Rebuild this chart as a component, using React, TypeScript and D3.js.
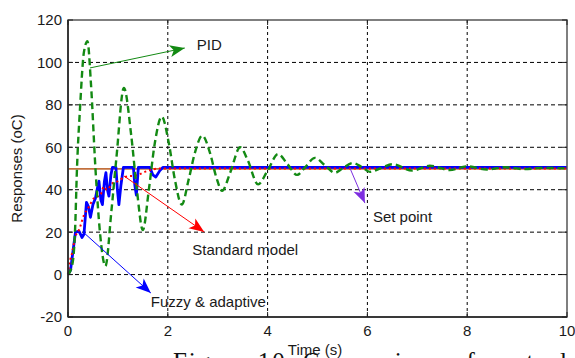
import React from "react";
import * as d3 from "d3";

const xTicks = [0, 2, 4, 6, 8, 10];
const yTicks = [-20, 0, 20, 40, 60, 80, 100, 120];
const gridX = [2, 4, 6, 8];
const gridY = [0, 20, 40, 60, 80, 100];

// PID (green dashed)
const pidTime = [0, 0.08, 0.14, 0.18, 0.24, 0.32, 0.39, 0.46, 0.55, 0.64, 0.75, 0.87, 0.97, 1.12, 1.27, 1.38, 1.5, 1.62, 1.74, 1.88, 2.02, 2.14, 2.28, 2.42, 2.55, 2.69, 2.85, 2.97, 3.09, 3.25, 3.45, 3.6, 3.81, 4.0, 4.21, 4.4, 4.59, 4.75, 4.95, 5.15, 5.35, 5.5, 5.71, 5.9, 6.05, 6.3, 6.51, 6.9, 7.25, 7.65, 8.0, 8.4, 8.75, 9.15, 9.5, 10];
const pidValue = [0, 4, 20, 50, 78, 105, 110, 90, 50, 20, 4, 30, 55, 88, 65, 40, 21, 40, 62, 74.5, 62, 45, 33, 45, 58, 65.5, 57, 46, 39.5, 48, 60, 54, 42.5, 49, 56.8, 52, 47, 50.5, 55, 51.5, 48, 50, 52.6, 50.5, 48.4, 50.5, 52, 49, 51.3, 49.3, 51, 49.5, 50.6, 49.7, 50.3, 50];

// Fuzzy & adaptive (blue solid)
const fuzzyTime = [0, 0.05, 0.15, 0.22, 0.28, 0.32, 0.37, 0.41, 0.45, 0.5, 0.55, 0.6, 0.62, 0.66, 0.69, 0.73, 0.76, 0.79, 0.82, 0.86, 0.89, 0.96, 0.99, 1.02, 1.06, 1.11, 1.31, 1.34, 1.37, 1.41, 1.64, 1.7, 1.76, 1.84, 1.9, 10];
const fuzzyValue = [0, 2, 20, 20.5, 17.5, 19, 34, 32, 27, 33, 36, 42, 44, 35, 33, 44, 48, 40, 37, 47, 50.5, 50.5, 40, 33, 42, 50.5, 50.5, 42, 37.5, 50.5, 50.5, 47, 46, 49, 50.5, 50.5];

// Standard model (red dotted)
const stdTime = [0, 0.02, 0.08, 0.15, 0.22, 0.32, 0.42, 0.52, 0.65, 0.72, 0.78, 0.89, 0.98, 1.14, 1.4, 1.55, 1.85, 10];
const stdValue = [0, 4, 10, 18, 21, 28, 32, 36, 37.5, 41.4, 40, 43, 43.8, 46, 47, 48.5, 50, 50];

// Set point (brown)
const setTime = [0, 10];
const setValue = [49.8, 49.8];

// Annotations, in data units
const noteLabels = ["PID", "Standard model", "Fuzzy & adaptive", "Set point"];
const noteColors = ["#138a13", "#ff0000", "#0000ff", "#7d2ee0"];
const noteFrom: [number, number][] = [[0.44, 97.4], [1.12, 46.5], [0.3, 20.1], [5.65, 50.2]];
const noteTo: [number, number][] = [[2.34, 106.8], [2.73, 20.1], [1.66, -8.7], [5.95, 33.7]];
const noteText: [number, number][] = [[2.58, 108.2], [2.49, 12], [1.66, -12.9], [6.11, 27.1]];

const W = 575;
const H = 358;
const margin = { top: 20, right: 8, bottom: 41, left: 68 };

function zip(t: number[], v: number[]): [number, number][] {
  return t.map((d, i) => [d, v[i]]);
}

function arrowHead(x1: number, y1: number, x2: number, y2: number, len: number, half: number) {
  const a = Math.atan2(y2 - y1, x2 - x1);
  const c = Math.cos(a), s = Math.sin(a);
  const bx = x2 - c * len, by = y2 - s * len;
  const nx = x2 - c * len * 0.75, ny = y2 - s * len * 0.75;
  return [
    [x2, y2],
    [bx - s * half, by + c * half],
    [nx, ny],
    [bx + s * half, by - c * half],
  ].map(p => p.join(",")).join(" ");
}

export default function App() {
  const x = d3.scaleLinear().domain([0, 10]).range([margin.left, W - margin.right]);
  const y = d3.scaleLinear().domain([-20, 120]).range([H - margin.bottom, margin.top]);

  const smooth = d3.line<[number, number]>().x(d => x(d[0])).y(d => y(d[1])).curve(d3.curveMonotoneX);
  const straight = d3.line<[number, number]>().x(d => x(d[0])).y(d => y(d[1]));

  const x0 = margin.left, x1 = W - margin.right;
  const y0 = margin.top, y1 = H - margin.bottom;

  return (
    <svg width={W} height={H} style={{ position: "absolute", left: 0, top: 0, background: "#fff" }}
      fontFamily="'Liberation Sans', Arial, sans-serif">
      {/* caption behind the plot, mostly cut off */}
      <text x={173} y={369.5} fontFamily="'Liberation Serif', 'Times New Roman', serif" fontSize={25}
        fill="#111" textLength={394} lengthAdjust="spacing">Figure 10. Comparison of control</text>

      {/* grid */}
      {gridY.map(v => (
        <line key={"gy" + v} x1={x0} x2={x1} y1={y(v)} y2={y(v)} stroke="#000" strokeWidth={1} strokeDasharray="4,3" />
      ))}
      {gridX.map(t => (
        <line key={"gx" + t} x1={x(t)} x2={x(t)} y1={y0} y2={y1} stroke="#000" strokeWidth={1} strokeDasharray="3,3" />
      ))}

      {/* series */}
      <path d={straight(zip(setTime, setValue)) ?? ""} fill="none" stroke="#c2703d" strokeWidth={1.6} />
      <path d={straight(zip(fuzzyTime, fuzzyValue)) ?? ""} fill="none" stroke="#0000ff" strokeWidth={2.8} strokeLinejoin="round" />
      <path d={smooth(zip(stdTime, stdValue)) ?? ""} fill="none" stroke="#ff0000" strokeWidth={2} strokeDasharray="2,3" />
      <path d={smooth(zip(pidTime, pidValue)) ?? ""} fill="none" stroke="#138a13" strokeWidth={2.4} strokeDasharray="7,4" />

      {/* box */}
      <rect x={x0} y={y0} width={x1 - x0} height={y1 - y0} fill="none" stroke="#555" strokeWidth={1.5} />
      <line x1={x0} x2={x0} y1={y0} y2={y1} stroke="#222" strokeWidth={1.5} />
      <line x1={x0} x2={x1} y1={y1} y2={y1} stroke="#222" strokeWidth={1.5} />

      {/* ticks */}
      {yTicks.map(v => (
        <g key={"yt" + v}>
          <line x1={x0} x2={x0 + 5} y1={y(v)} y2={y(v)} stroke="#222" />
          <line x1={x1} x2={x1 - 5} y1={y(v)} y2={y(v)} stroke="#222" />
          <text x={x0 - 6} y={y(v)} dy="0.36em" textAnchor="end" fontSize={15} fill="#1a1a1a">{v}</text>
        </g>
      ))}
      {xTicks.map(t => (
        <g key={"xt" + t}>
          <line x1={x(t)} x2={x(t)} y1={y1} y2={y1 - 5} stroke="#222" />
          <line x1={x(t)} x2={x(t)} y1={y0} y2={y0 + 5} stroke="#222" />
          <text x={x(t)} y={y1 + 19} textAnchor="middle" fontSize={15} fill="#1a1a1a">{t}</text>
        </g>
      ))}

      {/* axis labels */}
      <text x={315} y={355} textAnchor="middle" fontSize={15} fill="#1a1a1a">Time (s)</text>
      <text transform={`translate(22,${y(50)}) rotate(-90)`} textAnchor="middle" fontSize={15} fill="#1a1a1a">Responses (oC)</text>

      {/* annotations */}
      {noteLabels.map((label, i) => {
        const ax = x(noteFrom[i][0]), ay = y(noteFrom[i][1]);
        const bx = x(noteTo[i][0]), by = y(noteTo[i][1]);
        return (
          <g key={label}>
            <line x1={ax} y1={ay} x2={bx} y2={by} stroke={noteColors[i]} strokeWidth={1} />
            <polygon points={arrowHead(ax, ay, bx, by, 15, 6)} fill={noteColors[i]} />
            <text x={x(noteText[i][0])} y={y(noteText[i][1])} dy="0.36em" fontSize={15} fill="#1a1a1a">{label}</text>
          </g>
        );
      })}
    </svg>
  );
}
